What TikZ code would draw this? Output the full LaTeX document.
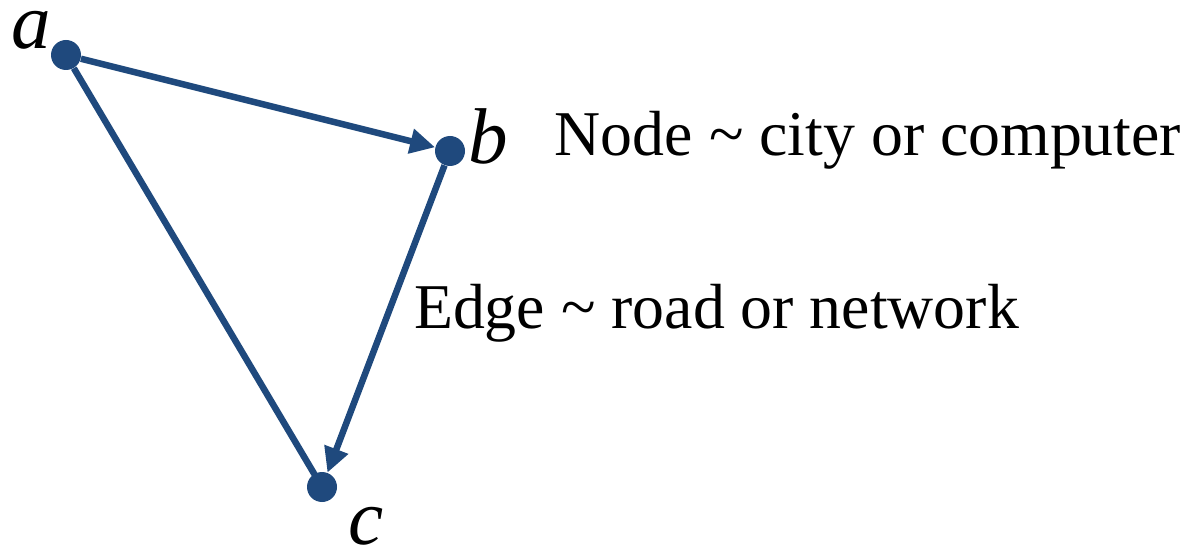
\documentclass[tikz,border=0pt]{standalone}
\usepackage{fontspec}
\setmainfont{Liberation Serif}
\usetikzlibrary{
  arrows.meta,
  positioning
}
\definecolor{azul}{RGB}{31,73,125}

\begin{document}
\begin{tikzpicture}[
    ponto/.style={
    circle,
    fill=azul,
    minimum size=0.6cm,
    inner sep=0pt
    },
    rotulo/.style={
    font=\fontsize{45}{50}\selectfont\itshape,
    inner sep=0pt
    },
    texto/.style={
    font=\fontsize{36.3}{40}\selectfont,
    inner sep=0pt
    },
    seta/.style={-{Triangle[length=0.5cm,width=0.48cm]},line width=0.13cm,azul},
    linha/.style={line width=0.13cm,azul}
    ]
    
    \useasboundingbox (0,0) rectangle (23.78,-11.06);
    
    \node[ponto] (a) at (1.32,-1.10) {};
    \node[ponto] (b) at (9.00,-3.02) {};
    \node[ponto] (c) at (6.44,-9.74) {};
    
    \node[rotulo] (la) at (0.62,-0.60) {a};
    \node[rotulo] (lb) at (9.76,-2.72) {b};
    \node[rotulo] (lc) at (7.32,-10.52) {c};
    
    \node[texto] (no) at (17.36,-2.80)
    {Node \textasciitilde{} city or computer};
    \node[texto] (aresta) at (14.33,-6.26)
    {Edge \textasciitilde{} road or network};
    
    \draw[seta](a)--(b);
    \draw[seta](b)--(c);
    \draw[linha](a)--(c.center);
    
    \end{tikzpicture}
\end{document}
